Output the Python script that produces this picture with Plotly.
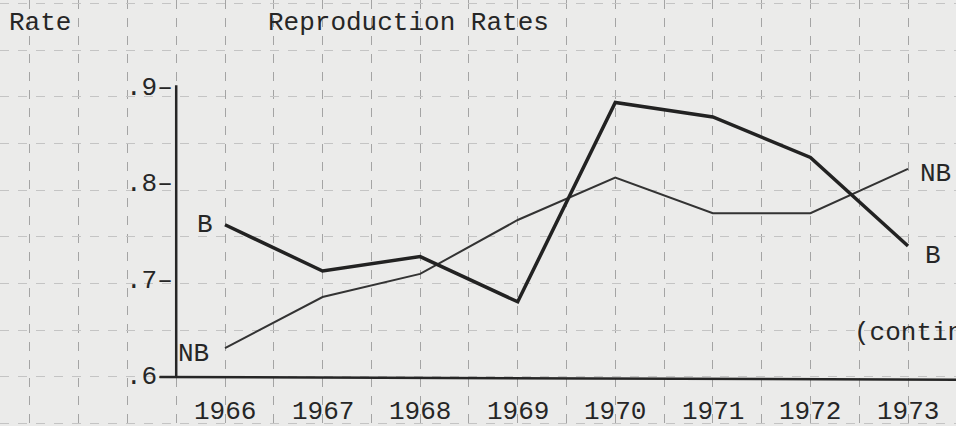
import plotly.graph_objs as go

years = [1966, 1967, 1968, 1969, 1970, 1971, 1972, 1973]
rate_b = [0.758, 0.710, 0.725, 0.678, 0.885, 0.870, 0.828, 0.736]
rate_nb = [0.630, 0.683, 0.707, 0.763, 0.807, 0.770, 0.770, 0.816]
y_ticks = [0.6, 0.7, 0.8, 0.9]
y_tick_text = [".6–", ".7–", ".8–", ".9–"]

ink = "#262626"
font = dict(family="Liberation Mono", size=26, color=ink)

fig = go.Figure()

# thin line: NB
fig.add_trace(go.Scatter(x=years, y=rate_nb, mode="lines",
                         line=dict(color="#333333", width=2), name="NB"))
# thick line: B
fig.add_trace(go.Scatter(x=years, y=rate_b, mode="lines",
                         line=dict(color="#222222", width=3.5), name="B"))

# axes drawn by hand, like on the paper
fig.add_shape(type="line", x0=1965.5, x1=1965.5, y0=0.6, y1=0.903,
              line=dict(color=ink, width=2.5))
fig.add_shape(type="line", x0=1965.33, x1=1973.5, y0=0.6, y1=0.597,
              line=dict(color=ink, width=2.5))

# tick labels
for v, t in zip(y_ticks, y_tick_text):
    fig.add_annotation(x=1965.49, y=v, text=t, showarrow=False, xanchor="right",
                       font=font)
for yr in years:
    fig.add_annotation(x=yr, y=0.564, text=str(yr), showarrow=False, font=font)

# series labels
fig.add_annotation(x=1965.9, y=rate_b[0], text="B", showarrow=False,
                   xanchor="right", font=font)
fig.add_annotation(x=1965.5, y=0.606, text="NB", showarrow=False,
                   xanchor="left", yanchor="bottom", font=font)
fig.add_annotation(x=1973.1, y=rate_nb[-1] - 0.005, text="NB", showarrow=False,
                   xanchor="left", font=font)
fig.add_annotation(x=1973.15, y=rate_b[-1] - 0.01, text="B", showarrow=False,
                   xanchor="left", font=font)

# titles
fig.add_annotation(x=1963.77, y=0.968, text="Rate", showarrow=False,
                   xanchor="left", font=font)
fig.add_annotation(x=1966.42, y=0.968, text="Reproduction Rates", showarrow=False,
                   xanchor="left", font=font)
fig.add_annotation(x=1972.43, y=0.646, text="(contin", showarrow=False,
                   xanchor="left", font=font)

fig.update_layout(
    width=956, height=426,
    margin=dict(l=0, r=0, t=0, b=0),
    paper_bgcolor="#ebebea", plot_bgcolor="#ebebea",
    showlegend=False,
    xaxis=dict(range=[1963.694, 1973.492], showticklabels=False, zeroline=False,
               showgrid=True, gridcolor="#a4a4a4", griddash="dash", gridwidth=1,
               tick0=1964, dtick=0.5, fixedrange=True),
    yaxis=dict(range=[0.549, 0.9915], showticklabels=False, zeroline=False,
               showgrid=True, gridcolor="#c4c4c4", griddash="dash", gridwidth=1,
               tick0=0.6, dtick=0.0485, fixedrange=True),
)

fig.write_html("out.html", config={"displayModeBar": False},
               post_script="document.body.style.margin='0px';"
                           "document.body.style.overflow='hidden';")
